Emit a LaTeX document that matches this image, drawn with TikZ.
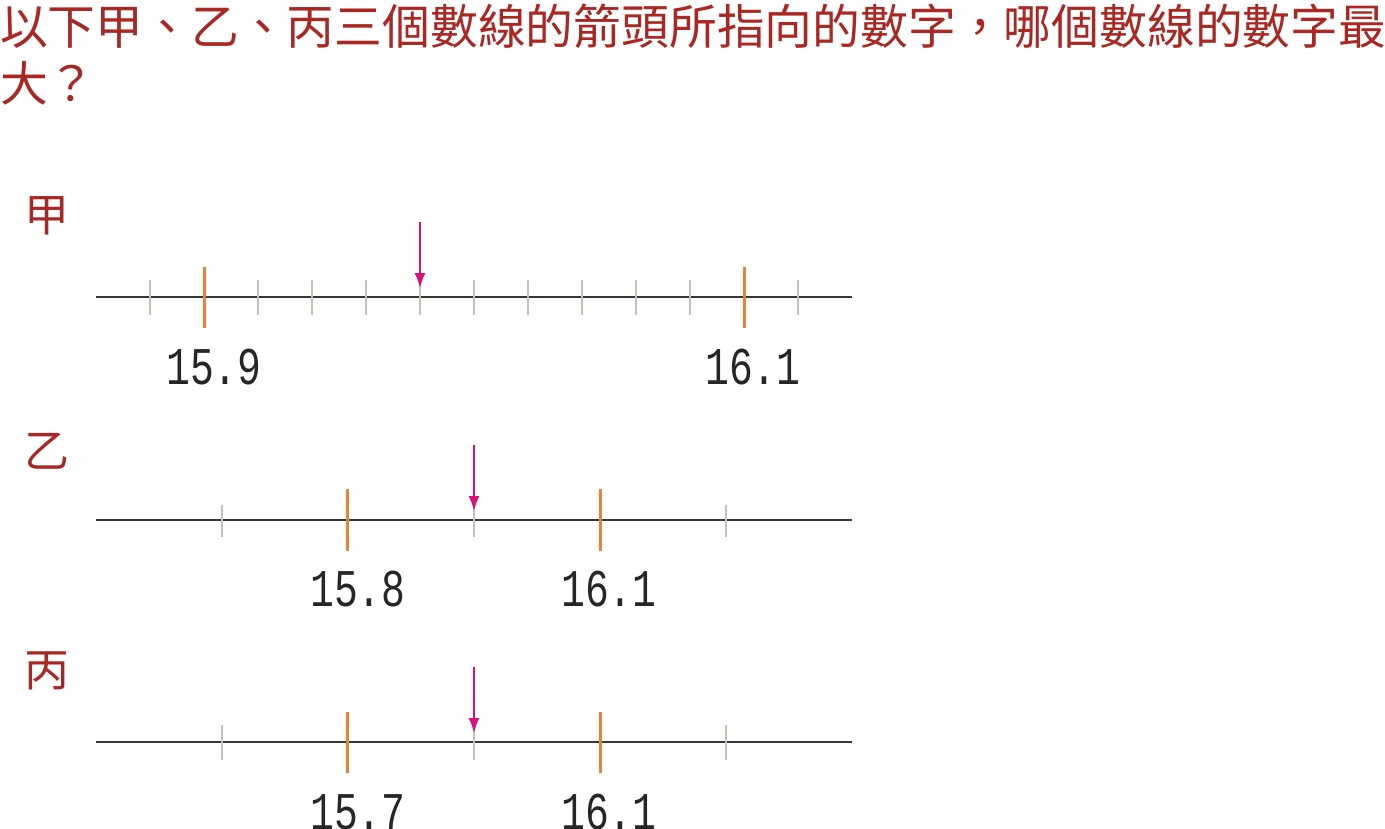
\documentclass[tikz,border=0pt]{standalone}
\usepackage{fontspec}
\setmainfont{Liberation Serif}
\newfontfamily\cjk{Noto Sans CJK TC}
\newfontfamily\monofam{Liberation Mono}
\usetikzlibrary{arrows.meta}
\definecolor{titlered}{RGB}{170,40,35}
\definecolor{tickorange}{RGB}{232,130,55}
\definecolor{arrowpink}{RGB}{214,18,122}
\definecolor{axisgray}{RGB}{55,55,55}
\definecolor{minorgray}{RGB}{205,190,180}
\newcommand\numtxt[1]{\scalebox{0.75}[1]{#1}}
\begin{document}
\begin{tikzpicture}[x=1pt,y=-1pt,
  titletext/.style={font=\cjk\fontsize{47.8}{57}\selectfont, text=titlered, inner sep=0pt, anchor=base west},
  linelabel/.style={font=\cjk\fontsize{45}{50}\selectfont, text=titlered, inner sep=0pt, anchor=base west},
  numlabel/.style={font=\monofam\fontsize{53}{60}\selectfont, text=black!85, inner sep=0pt, anchor=base},
  axisline/.style={draw=axisgray, line width=1.6pt},
  minortick/.style={draw=minorgray, line width=1.3pt},
  majortick/.style={draw=tickorange, line width=3pt},
  pointer/.style={draw=arrowpink, line width=2pt, -{Latex[length=15pt,width=11pt]}}
]
\useasboundingbox (0,0) rectangle (1385,828);

% title
\node[titletext] (t1) at (0,44) {以下甲、乙、丙三個數線的箭頭所指向的數字，哪個數線的數字最};
\node[titletext] (t2) at (0,101) {大？};

% ---------- 甲 ----------
\node[linelabel] (jia) at (24,231) {甲};
\draw[axisline] (96,297) -- (852,297);
\foreach \k in {0,2,3,4,5,6,7,8,9,10,12} {
  \draw[minortick] ({150+54*\k},280) -- ({150+54*\k},315);
}
\draw[majortick] (204,267) -- (204,328);
\draw[majortick] (744,267) -- (744,328);
\coordinate (jiaS) at (420,222);
\coordinate (jiaE) at (420,288);
\draw[pointer] (jiaS) -- (jiaE);
\node[numlabel] (jiaL1) at (214,384) {\numtxt{15.9}};
\node[numlabel] (jiaL2) at (753,384) {\numtxt{16.1}};

% ---------- 乙 ----------
\node[linelabel] (yi) at (24,467) {乙};
\draw[axisline] (96,520) -- (852,520);
\foreach \x in {222,474,726} {
  \draw[minortick] (\x,505) -- (\x,537);
}
\draw[majortick] (347,489) -- (347,551);
\draw[majortick] (600,489) -- (600,551);
\coordinate (yiS) at (474,445);
\coordinate (yiE) at (474,511);
\draw[pointer] (yiS) -- (yiE);
\node[numlabel] (yiL1) at (358,606) {\numtxt{15.8}};
\node[numlabel] (yiL2) at (609,606) {\numtxt{16.1}};

% ---------- 丙 ----------
\node[linelabel] (bing) at (24,686) {丙};
\draw[axisline] (96,742) -- (852,742);
\foreach \x in {222,474,726} {
  \draw[minortick] (\x,725) -- (\x,760);
}
\draw[majortick] (347,712) -- (347,773);
\draw[majortick] (600,712) -- (600,773);
\coordinate (bingS) at (474,667);
\coordinate (bingE) at (474,733);
\draw[pointer] (bingS) -- (bingE);
\node[numlabel] (bingL1) at (358,829) {\numtxt{15.7}};
\node[numlabel] (bingL2) at (609,829) {\numtxt{16.1}};
\end{tikzpicture}
\end{document}
